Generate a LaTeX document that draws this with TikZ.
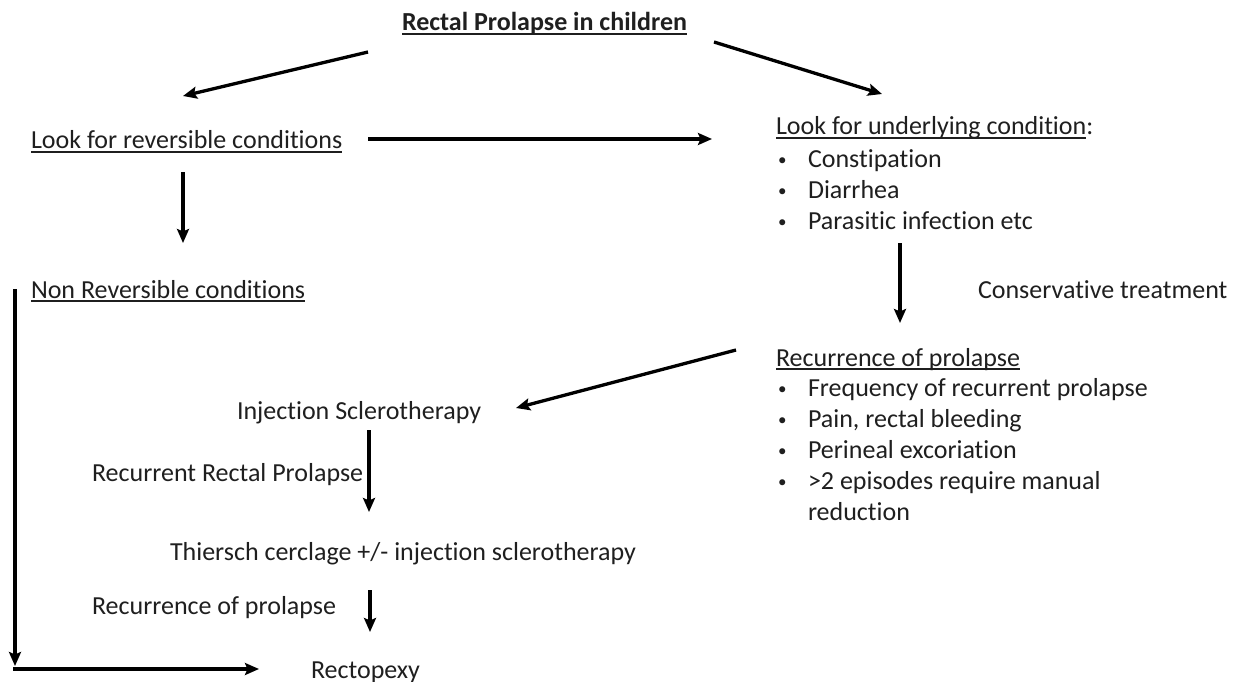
\documentclass[tikz,border=0pt]{standalone}
\usepackage{fontspec}
\setmainfont[RawFeature=-liga]{Carlito}
\usetikzlibrary{arrows.meta}
\newcommand\myul[1]{\setbox0\hbox{#1}\rlap{\rule[-3.6pt]{\wd0}{1.5pt}}\box0}
\newcommand\bul{\makebox[32pt][l]{\hspace{2pt}\raisebox{1.5pt}{\fontsize{17}{17}\selectfont\textbullet}}}
\begin{document}
\begin{tikzpicture}[x=1pt,y=-1pt,
  txt/.style={anchor=base west,inner sep=0pt,outer sep=0pt,font=\fontsize{26}{31}\selectfont,text=black!88},
  conn/.style={line width=3.3pt,-{Stealth[length=14pt,width=12pt,inset=2.5pt]}}]
\useasboundingbox (0,0) rectangle (1236,682);
\fill[white] (0,0) rectangle (1236,682);
% nodes
\node[txt] (title) at (402,31) {\bfseries\myul{Rectal Prolapse in children}};
\node[txt] (rev) at (31,149) {\myul{Look for reversible conditions}};
\node[txt] (und) at (776,135) {\myul{Look for underlying condition}:};
\node[txt] (u1) at (776,167) {\bul Constipation};
\node[txt] (u2) at (776,198) {\bul Diarrhea};
\node[txt] (u3) at (776,229) {\bul Parasitic infection etc};
\node[txt] (nonrev) at (31,298) {\myul{Non Reversible conditions}};
\node[txt] (cons) at (978,298) {Conservative treatment};
\node[txt] (rec) at (776,366) {\myul{Recurrence of prolapse}};
\node[txt] (r1) at (776,396) {\bul Frequency of recurrent prolapse};
\node[txt] (r2) at (776,427) {\bul Pain, rectal bleeding};
\node[txt] (r3) at (776,458) {\bul Perineal excoriation};
\node[txt] (r4) at (776,489) {\bul >2 episodes require manual};
\node[txt] (r5) at (776,520) {\hspace*{32pt}reduction};
\node[txt] (inj) at (237,419) {Injection Sclerotherapy};
\node[txt] (rrp) at (92,481) {Recurrent Rectal Prolapse};
\node[txt] (thi) at (170,560) {Thiersch cerclage +/- injection sclerotherapy};
\node[txt] (recl) at (92,614) {Recurrence of prolapse};
\node[txt] (rpx) at (311,678) {Rectopexy};
% coordinates for connector ends
\coordinate (a1s) at (368,52);  \coordinate (a1e) at (183,96);
\coordinate (a2s) at (714,42);  \coordinate (a2e) at (882,94);
\coordinate (a3s) at (368,139); \coordinate (a3e) at (712,139);
\coordinate (a4s) at (183,172); \coordinate (a4e) at (183,243);
\coordinate (a5s) at (900,243); \coordinate (a5e) at (900,323);
\coordinate (a6s) at (736,350); \coordinate (a6e) at (516,408);
\coordinate (a7s) at (369,430); \coordinate (a7e) at (369,512);
\coordinate (a8s) at (370,590); \coordinate (a8e) at (370,632);
\coordinate (a9s) at (15,289);  \coordinate (a9e) at (15,666);
\coordinate (a10s) at (13.4,669); \coordinate (a10e) at (259,669);
% connectors
\draw[conn] (a1s) -- (a1e);
\draw[conn] (a2s) -- (a2e);
\draw[conn] (a3s) -- (a3e);
\draw[conn] (a4s) -- (a4e);
\draw[conn] (a5s) -- (a5e);
\draw[conn] (a6s) -- (a6e);
\draw[conn] (a7s) -- (a7e);
\draw[conn] (a8s) -- (a8e);
\draw[conn] (a9s) -- (a9e);
\draw[conn] (a10s) -- (a10e);
\end{tikzpicture}
\end{document}
